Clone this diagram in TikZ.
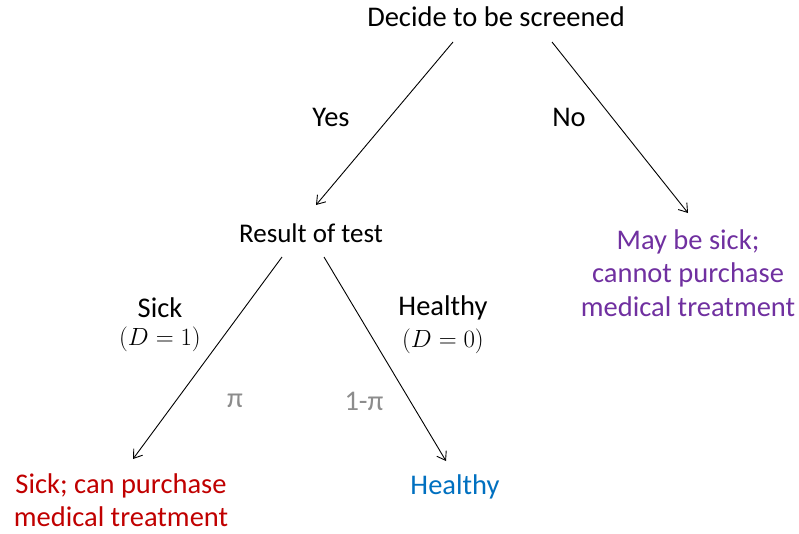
\documentclass[tikz,border=0pt]{standalone}
\usepackage{fontspec}
\setmainfont{Carlito}
\usetikzlibrary{arrows.meta}
\definecolor{cred}{RGB}{192,0,0}
\definecolor{cblue}{RGB}{0,112,192}
\definecolor{cpurple}{RGB}{112,48,160}
\definecolor{cgray}{RGB}{140,140,140}
\begin{document}
\begin{tikzpicture}[x=1pt,y=-1pt,
  lbl/.style={font=\fontsize{28.5}{33.5}\selectfont, inner sep=0pt, align=center},
  mth/.style={lbl, font=\fontsize{26}{30}\selectfont},
  conn/.style={line width=0.9pt, -{Straight Barb[length=8pt,width=11pt,line width=0.9pt]}}]
\useasboundingbox (0,0) rectangle (799,533);
\node[lbl] (decide) at (496,17) {Decide to be screened};
\node[lbl] (yes) at (331,117) {Yes};
\node[lbl] (no) at (569,117) {No};
\node[lbl, font=\fontsize{27}{32}\selectfont] (result) at (311,233) {Result of test};
\node[lbl, text=cpurple] (maybe) at (688,273) {May be sick;\\cannot purchase\\medical treatment};
\node[lbl] (sick) at (160,308) {Sick};
\node[mth] (sickd) at (160,339) {$(D=1)$};
\node[lbl] (healthyl) at (443,308) {Healthy};
\node[mth] (healthyd) at (443,341) {$(D=0)$};
\node[lbl, text=cgray] (pi) at (235,401) {π};
\node[lbl, text=cgray] (onepi) at (364,401) {1-π};
\node[lbl, text=cred] (sickout) at (121,500) {Sick; can purchase\\medical treatment};
\node[lbl, text=cblue] (healthyout) at (455,487) {Healthy};
\coordinate (a1) at (453,42);
\coordinate (a2) at (316,205);
\coordinate (b1) at (552,42);
\coordinate (b2) at (688,213);
\coordinate (c1) at (282,257);
\coordinate (c2) at (133,459);
\coordinate (d1) at (324,257);
\coordinate (d2) at (446,461);
\draw[conn] (a1) -- (a2);
\draw[conn] (b1) -- (b2);
\draw[conn] (c1) -- (c2);
\draw[conn] (d1) -- (d2);
\end{tikzpicture}
\end{document}
